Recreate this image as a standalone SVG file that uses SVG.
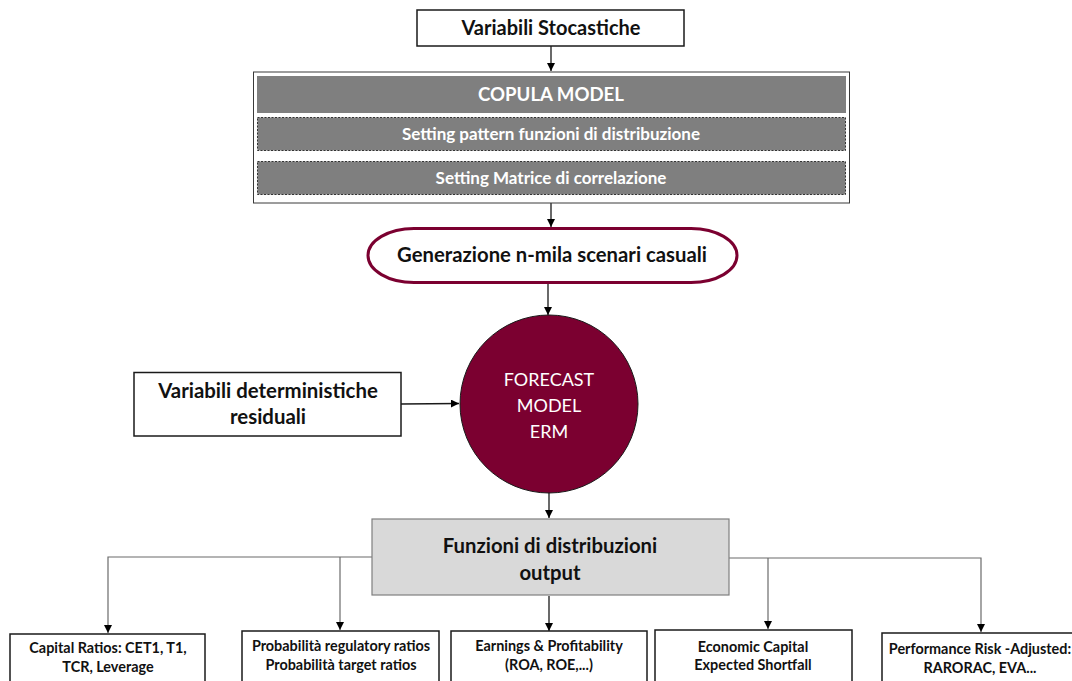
<svg xmlns="http://www.w3.org/2000/svg" width="1072" height="681" viewBox="0 0 1072 681">
  <style>
    text { font-family: Lato, "Open Sans", "Liberation Sans", sans-serif; text-anchor: middle; }
    .b { font-weight: bold; fill: #111; }
    .w { fill: #ffffff; }
    .box { fill: #ffffff; stroke: #1a1a1a; stroke-width: 1.5; }
    .bar { fill: #7f7f7f; }
    .dash { fill: #7f7f7f; stroke: #333; stroke-width: 1; stroke-dasharray: 2 1.5; }
    .wire { fill: none; stroke: #1a1a1a; stroke-width: 1.3; }
    .tree { fill: none; stroke: #6b6b6b; stroke-width: 1.2; }
    .leaf { font-size: 14.4px; }
  </style>
  <defs>
    <marker id="arr" viewBox="0 0 10 10" refX="10" refY="5" markerWidth="8" markerHeight="8" markerUnits="userSpaceOnUse" orient="auto">
      <path d="M0,0 L10,5 L0,10 z" fill="#000"/>
    </marker>
  </defs>

  <rect width="1072" height="681" fill="#ffffff"/>

  <g id="connectors">
    <path class="wire" d="M551,46 V71" marker-end="url(#arr)"/>
    <path class="wire" d="M551,203 V227" marker-end="url(#arr)"/>
    <path class="wire" d="M548,283 V315" marker-end="url(#arr)"/>
    <path class="wire" d="M401,404 L459,403.5" marker-end="url(#arr)"/>
    <path class="wire" d="M549,493 V518" marker-end="url(#arr)"/>
    <path class="wire" d="M549,596 V631" marker-end="url(#arr)"/>
    <path class="tree" d="M372,557 H108 V633" marker-end="url(#arr)"/>
    <path class="tree" d="M340,557 V630" marker-end="url(#arr)"/>
    <path class="tree" d="M729,558 H981 V632" marker-end="url(#arr)"/>
    <path class="tree" d="M768,558 V629" marker-end="url(#arr)"/>
  </g>

  <g id="variabili-stocastiche">
    <rect class="box" x="417" y="10" width="267" height="36"/>
    <text class="b" x="551" y="35" font-size="20">Variabili Stocastiche</text>
  </g>

  <g id="copula-model">
    <rect x="253.5" y="72" width="596" height="131" fill="#fff" stroke="#3a3a3a" stroke-width="1"/>
    <rect class="bar" x="257" y="76" width="589" height="37"/>
    <text class="w" x="551" y="101" font-size="18.6" font-weight="bold">COPULA MODEL</text>
    <rect class="dash" x="257.5" y="117.5" width="588" height="33"/>
    <text class="w" x="551" y="140" font-size="17" font-weight="bold">Setting pattern funzioni di distribuzione</text>
    <rect class="dash" x="257.5" y="161.5" width="588" height="33"/>
    <text class="w" x="551" y="184" font-size="17" font-weight="bold">Setting Matrice di correlazione</text>
  </g>

  <g id="generazione-scenari">
    <rect x="368" y="228.5" width="369" height="54" rx="46" ry="27" fill="#fff" stroke="#7b0030" stroke-width="3"/>
    <text class="b" x="552" y="262" font-size="20.3">Generazione n-mila scenari casuali</text>
  </g>

  <g id="forecast-model">
    <circle cx="549" cy="404" r="89" fill="#7b0030" stroke="#1a1a1a" stroke-width="1"/>
    <text class="w" x="549" y="386" font-size="18">FORECAST</text>
    <text class="w" x="549" y="412" font-size="18">MODEL</text>
    <text class="w" x="549" y="438" font-size="18">ERM</text>
  </g>

  <g id="variabili-deterministiche">
    <rect class="box" x="134" y="372.5" width="267" height="63.5"/>
    <text class="b" x="268" y="398" font-size="20.4">Variabili deterministiche</text>
    <text class="b" x="268" y="424" font-size="20.4">residuali</text>
  </g>

  <g id="funzioni-output">
    <rect x="372" y="519" width="357" height="76" fill="#d9d9d9" stroke="#7f7f7f" stroke-width="1.2"/>
    <text class="b" x="550" y="553" font-size="20.3">Funzioni di distribuzioni</text>
    <text class="b" x="550" y="580" font-size="20.3">output</text>
  </g>

  <g id="capital-ratios">
    <rect class="box" x="10" y="634" width="195" height="60"/>
    <text class="b leaf" x="108" y="653">Capital Ratios: CET1, T1,</text>
    <text class="b leaf" x="108" y="672">TCR, Leverage</text>
  </g>

  <g id="probabilita-ratios">
    <rect class="box" x="242" y="631" width="197" height="60"/>
    <text class="b leaf" x="341" y="651">Probabilità regulatory ratios</text>
    <text class="b leaf" x="341" y="670">Probabilità target ratios</text>
  </g>

  <g id="earnings-profitability">
    <rect class="box" x="451" y="631" width="196" height="60"/>
    <text class="b leaf" x="549" y="651">Earnings &amp; Profitability</text>
    <text class="b leaf" x="549" y="670">(ROA, ROE,...)</text>
  </g>

  <g id="economic-capital">
    <rect class="box" x="655" y="630" width="197" height="60"/>
    <text class="b leaf" x="753" y="652">Economic Capital</text>
    <text class="b leaf" x="753" y="670">Expected Shortfall</text>
  </g>

  <g id="performance-risk">
    <rect class="box" x="882" y="633" width="200" height="60"/>
    <text class="b leaf" x="980" y="654">Performance Risk -Adjusted:</text>
    <text class="b leaf" x="980" y="673">RARORAC, EVA...</text>
  </g>
</svg>
